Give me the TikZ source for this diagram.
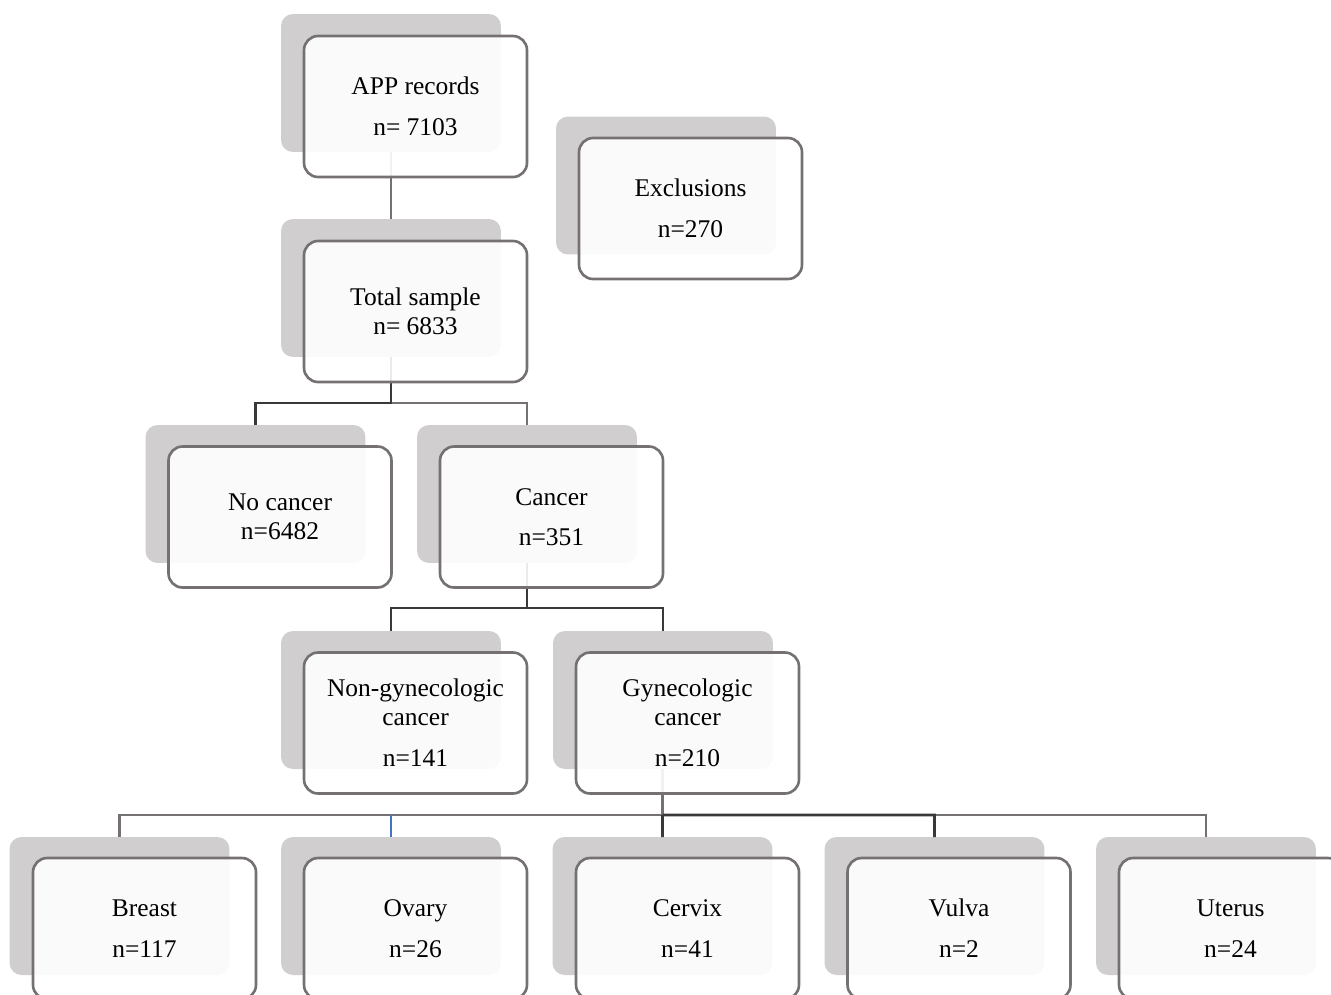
\documentclass[tikz,border=0pt]{standalone}
\usepackage{fontspec}
\setmainfont{Liberation Serif}
\usepackage{tikz}
\definecolor{shadegray}{RGB}{208,206,206}
\definecolor{edgegray}{RGB}{118,113,113}
\definecolor{darkline}{RGB}{59,56,56}
\definecolor{linkblue}{RGB}{68,114,196}

\begin{document}
\begin{tikzpicture}[x=0.02cm, y=-0.02cm,
  back/.style={rounded corners=0.24cm, fill=shadegray, minimum width=4.4cm, minimum height=2.76cm, inner sep=0pt, outer sep=0pt},
  card/.style={draw=edgegray, line width=1.5pt, rounded corners=0.28cm, fill=white, fill opacity=0.9, text opacity=1, minimum width=4.46cm, minimum height=2.82cm, align=center, inner sep=0pt, outer sep=0pt, font=\fontsize{14.5pt}{16.5pt}\selectfont},
  link/.style={line width=1.5pt, edgegray},
  darklink/.style={line width=1.5pt, darkline}
]
  \clip (0,0) rectangle (1331,994);

  % ── shadow boxes ──
  \node[back] (app-bg)    at (391,83)    {};
  \node[back] (excl-bg)   at (666,185.5) {};
  \node[back] (total-bg)  at (391,288)   {};
  \node[back] (nocan-bg)  at (255.5,494) {};
  \node[back] (can-bg)    at (527,494)   {};
  \node[back] (nongyn-bg) at (391,700)   {};
  \node[back] (gyn-bg)    at (663,700)   {};
  \node[back] (breast-bg) at (119.5,906) {};
  \node[back] (ovary-bg)  at (391,906)   {};
  \node[back] (cervix-bg) at (662.5,906) {};
  \node[back] (vulva-bg)  at (934.5,906) {};
  \node[back] (uterus-bg) at (1206,906)  {};

  % ── connectors ──
  \draw[link] (app-bg) -- (total-bg);

  \path (total-bg.south) ++(0,46) coordinate (j1);
  \draw[link] (j1) -| (can-bg.north);
  \draw[darklink] (total-bg.south) -- (j1) -| (nocan-bg.north);

  \path (can-bg.south) ++(0,45) coordinate (j2);
  \draw[darklink] (can-bg.south) -- (j2) -| (nongyn-bg.north);
  \draw[darklink] (j2) -| (gyn-bg.north);

  \path (gyn-bg.south) ++(-0.5,46) coordinate (j3);
  \path (vulva-bg.north) ++(0,-22) coordinate (j4);
  \draw[link] (gyn-bg.south -| j3) -- (j3) -| (breast-bg.north);
  \draw[link] (j4) -| (uterus-bg.north);
  \draw[link] (j3) -| (ovary-bg.north);
  \draw[linkblue, line width=1.5pt] (ovary-bg.north) ++(0,-22) -- (ovary-bg.north);
  \draw[darklink] (j3) -- (cervix-bg.north);
  \draw[darklink] (j3) -- (j4) -- (vulva-bg.north);

  % ── front boxes ──
  \node[card] (app)    at (415.5,106.5) {APP records\\[0.24cm]n= 7103};
  \node[card] (excl)   at (690.5,208.5) {Exclusions\\[0.24cm]n=270};
  \node[card] (total)  at (415.5,311.5) {Total sample\\n= 6833};
  \node[card] (nocan)  at (280,517)     {No cancer\\n=6482};
  \node[card] (can)    at (551.5,517)   {Cancer\\[0.22cm]n=351};
  \node[card] (nongyn) at (415.5,723)   {Non-gynecologic\\cancer\\[0.24cm]n=141};
  \node[card] (gyn)    at (687.5,723)   {Gynecologic\\cancer\\[0.24cm]n=210};
  \node[card] (breast) at (144.5,928.5) {Breast\\[0.24cm]n=117};
  \node[card] (ovary)  at (415.5,928.5) {Ovary\\[0.24cm]n=26};
  \node[card] (cervix) at (687.5,928.5) {Cervix\\[0.24cm]n=41};
  \node[card] (vulva)  at (959,928.5)   {Vulva\\[0.24cm]n=2};
  \node[card] (uterus) at (1230.5,928.5) {Uterus\\[0.24cm]n=24};
\end{tikzpicture}
\end{document}
